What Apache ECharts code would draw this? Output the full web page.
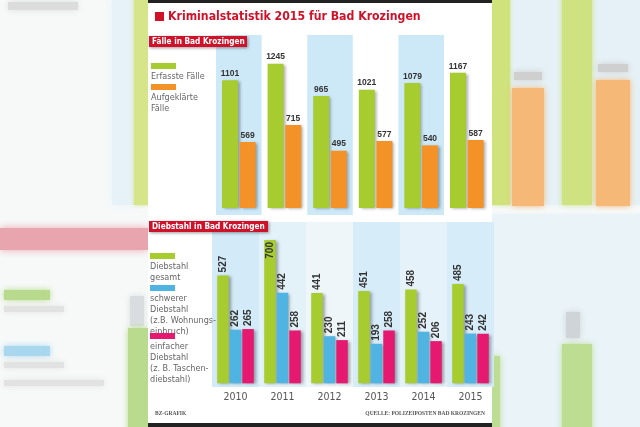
<!DOCTYPE html>
<html><head><meta charset="utf-8">
<script src="https://cdn.jsdelivr.net/npm/echarts@6/dist/echarts.min.js"></script>
<style>html,body{margin:0;padding:0;background:#fff}#c{width:640px;height:427px}</style>
</head><body><div id="c"></div>
<script>
const years = ['2010','2011','2012','2013','2014','2015'];
const erfasst = [1101,1245,965,1021,1079,1167];
const aufgeklaert = [569,715,495,577,540,587];
const diebGesamt = [527,700,441,451,458,485];
const diebSchwer = [262,442,230,193,252,243];
const diebEinfach = [265,258,211,258,206,242];
const topNames = ['Erfasste Fälle','Aufgeklärte\nFälle'];
const lowNames = ['Diebstahl\ngesamt','schwerer\nDiebstahl\n(z.B. Wohnungs-\neinbruch)','einfacher\nDiebstahl\n(z. B. Taschen-\ndiebstahl)'];
const titleText = 'Kriminalstatistik 2015 für Bad Krozingen';
const sec1 = 'Fälle in Bad Krozingen';
const sec2 = 'Diebstahl in Bad Krozingen';
const srcLeft = 'BZ-GRAFIK';
const srcRight = 'QUELLE: POLIZEIPOSTEN BAD KROZINGEN';

const GREEN='#a7cc30', ORANGE='#f39226', BLUE='#4fb4e1', PINK='#e4196f', RED='#cf1229';
const NARROW = "'Liberation Sans Narrow','DejaVu Sans Condensed',sans-serif";
const SANS = "'Liberation Sans',Arial,sans-serif";
const shadow = {shadowBlur:3, shadowColor:'rgba(0,0,0,0.35)', shadowOffsetX:2, shadowOffsetY:1};

function blob(x,y,w,h,c,b){return {type:'rect',z:-5,shape:{x:x,y:y,width:w,height:h},style:{fill:c,shadowBlur:b||10,shadowColor:c}};}
const deco = [
  {type:'rect',z:-6,shape:{x:0,y:0,width:640,height:427},style:{fill:'#f7f9f9'}},
  blob(112,0,26,205,'#e6f2f8',8),
  blob(134,-10,14,215,'#d6e58a',4),
  blob(8,2,70,8,'#dcdcdc',6),
  blob(0,228,148,22,'#e9a5ad',8),
  blob(4,290,46,10,'#b7da8c',6),
  blob(4,306,60,6,'#e2e2e2',6),
  blob(4,346,46,10,'#a9d8ee',6),
  blob(4,362,60,6,'#e2e2e2',6),
  blob(4,380,100,6,'#e2e2e2',6),
  blob(130,296,14,30,'#d9dde0',6),
  blob(128,328,20,110,'#b9db8e',6),
  blob(498,-10,142,215,'#e5f1f7',6),
  blob(492,-10,18,215,'#d0e27c',4),
  blob(512,88,32,118,'#f5b877',6),
  blob(514,72,28,8,'#cfcfcf',6),
  blob(562,-10,30,215,'#cfe282',6),
  blob(596,80,34,126,'#f5b877',6),
  blob(598,64,30,8,'#cfcfcf',6),
  blob(492,214,148,220,'#e9f3f8',4),
  blob(566,312,14,26,'#cfd4d8',6),
  blob(562,344,30,90,'#bddd92',6),
  blob(492,356,8,80,'#bddd92',6),
  {type:'rect',z:-4,shape:{x:148,y:0,width:344,height:427},style:{fill:'#ffffff'}},
  {type:'rect',z:20,shape:{x:148,y:0,width:344,height:3},style:{fill:'#222'}},
  {type:'rect',z:20,shape:{x:148,y:423,width:344,height:4},style:{fill:'#222'}}
];

function secLabel(x,y,w,txt){
  return [{type:'rect',z:10,shape:{x:x,y:y,width:w,height:11},style:{fill:RED,shadowBlur:3,shadowColor:'rgba(0,0,0,0.4)',shadowOffsetX:1,shadowOffsetY:1}},
          {type:'text',z:11,x:x+3,y:y+1.5,style:{text:txt,fill:'#fff',font:"bold 8.2px "+NARROW}}];
}
function legendItems(names,colors,x,y0,gaps){
  const out=[]; let y=y0;
  names.forEach((n,i)=>{
    out.push({type:'rect',z:10,shape:{x:x,y:y,width:25,height:6},style:{fill:colors[i]}});
    out.push({type:'text',z:10,x:x,y:y+8,style:{text:n,fill:'#666',fontSize:9,fontFamily:NARROW,lineHeight:11}});
    y+=gaps[i];
  });
  return out;
}
const graphics = deco.concat(
  [{type:'rect',z:10,shape:{x:155,y:12,width:9,height:9},style:{fill:RED}},
   {type:'text',z:10,x:168,y:16.5,style:{text:titleText,fill:RED,fontSize:12.2,fontWeight:'bold',fontFamily:NARROW,verticalAlign:'middle'}}],
  secLabel(149,36,98,sec1),
  secLabel(149,221,119,sec2),
  legendItems(topNames,[GREEN,ORANGE],151,63,[21]),
  legendItems(lowNames,[GREEN,BLUE,PINK],150,253,[32,48]),
  [{type:'text',z:10,x:155,y:411,style:{text:srcLeft,fill:'#555',font:"bold 5.5px 'Liberation Serif',serif"}},
   {type:'text',z:10,x:485,y:411,style:{text:srcRight,fill:'#555',align:'right',font:"bold 5.5px 'Liberation Serif',serif"}}]
);

const topLabel = {show:true,position:'top',distance:2,color:'#333',fontWeight:'bold',fontSize:8.5,fontFamily:SANS};
const lowLabel = {show:true,position:'top',distance:3,rotate:90,align:'left',verticalAlign:'middle',color:'#333',fontWeight:'bold',fontSize:10,fontFamily:SANS};
function lowData(arr){return arr.map(v=>v>=700?{value:v,label:{position:'insideTop',align:'right',distance:2}}:v);}

const option = {
  animation:false,
  graphic:{elements:graphics},
  grid:[{left:216,width:273.6,top:35,bottom:212},{left:212,width:282,top:222,bottom:40}],
  xAxis:[
    {type:'category',gridIndex:0,data:years,axisLine:{show:false},axisTick:{show:false},axisLabel:{show:false},
     splitArea:{show:true,areaStyle:{color:['#cde9f8','rgba(255,255,255,0)']}}},
    {type:'category',gridIndex:1,data:years,axisLine:{show:false},axisTick:{show:false},
     axisLabel:{margin:5,color:'#555',fontSize:10.5,fontFamily:NARROW},
     splitArea:{show:true,areaStyle:{color:['#d3ebf8','#e3f1f9','#eef6fa','#d6ecf8','#e6f2f9','#d6ecf8']}}}
  ],
  yAxis:[
    {type:'value',gridIndex:0,min:-60,max:1492,show:false,splitLine:{show:false}},
    {type:'value',gridIndex:1,min:-18,max:788,show:false,splitLine:{show:false}}
  ],
  series:[
    {name:topNames[0],type:'bar',xAxisIndex:0,yAxisIndex:0,data:erfasst,barWidth:16,barGap:'10%',itemStyle:Object.assign({color:GREEN},shadow),label:topLabel},
    {name:topNames[1],type:'bar',xAxisIndex:0,yAxisIndex:0,data:aufgeklaert,barWidth:16,barGap:'10%',itemStyle:Object.assign({color:ORANGE},shadow),label:topLabel},
    {name:lowNames[0],type:'bar',xAxisIndex:1,yAxisIndex:1,data:lowData(diebGesamt),barWidth:11.5,barGap:'9%',itemStyle:Object.assign({color:GREEN},shadow),label:lowLabel},
    {name:lowNames[1],type:'bar',xAxisIndex:1,yAxisIndex:1,data:lowData(diebSchwer),barWidth:11.5,barGap:'9%',itemStyle:Object.assign({color:BLUE},shadow),label:lowLabel},
    {name:lowNames[2],type:'bar',xAxisIndex:1,yAxisIndex:1,data:lowData(diebEinfach),barWidth:11.5,barGap:'9%',itemStyle:Object.assign({color:PINK},shadow),label:lowLabel}
  ]
};
const chart = echarts.init(document.getElementById('c'),null,{renderer:'canvas'});
chart.setOption(option);
</script></body></html>
